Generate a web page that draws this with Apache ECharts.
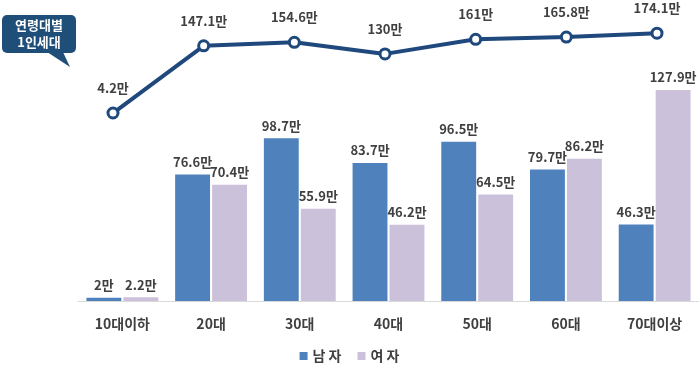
<!DOCTYPE html>
<html><head><meta charset="utf-8">
<script src="https://cdn.jsdelivr.net/npm/echarts@6/dist/echarts.min.js"></script>
<style>html,body{margin:0;padding:0;background:#fff}#c{width:699px;height:371px}</style>
</head><body><div id="c"></div>
<script>
const categories = ['10대이하','20대','30대','40대','50대','60대','70대이상'];
const male = [2, 76.6, 98.7, 83.7, 96.5, 79.7, 46.3];
const female = [2.2, 70.4, 55.9, 46.2, 64.5, 86.2, 127.9];
const total = [4.2, 147.1, 154.6, 130, 161, 165.8, 174.1];
const seriesNames = ['남 자', '여 자', '합계'];

const FONT = '"Noto Sans CJK KR", "Noto Sans", sans-serif';
const chart = echarts.init(document.getElementById('c'));
const lbl = {show: true, position: 'top', formatter: p => p.value + '만', color: '#404040', fontWeight: 'bold', fontSize: 13, fontFamily: FONT, distance: 6};
chart.setOption({
  animation: false,
  textStyle: {fontFamily: FONT},
  grid: [
    {left: 78, right: 0, top: 70, bottom: 70},
    {left: 113, right: 42, top: 21, bottom: 256}
  ],
  legend: {
    data: seriesNames.slice(0, 2), bottom: 3, left: 'center', icon: 'rect', itemWidth: 8, itemHeight: 8, itemGap: 16,
    textStyle: {color: '#404040', fontWeight: 'bold', fontSize: 14, fontFamily: FONT}
  },
  xAxis: [
    {type: 'category', data: categories, gridIndex: 0,
     axisLine: {lineStyle: {color: '#d9d9d9', width: 1}}, axisTick: {show: false},
     axisLabel: {color: '#404040', fontWeight: 'bold', fontSize: 14, margin: 16, fontFamily: FONT}},
    {type: 'category', data: categories, gridIndex: 1, boundaryGap: false, show: false}
  ],
  yAxis: [
    {type: 'value', min: 0, max: 140, gridIndex: 0, show: false, splitLine: {show: false}},
    {type: 'value', min: 0, max: 200, gridIndex: 1, show: false, splitLine: {show: false}}
  ],
  series: [
    {name: seriesNames[0], type: 'bar', data: male, xAxisIndex: 0, yAxisIndex: 0, barGap: '6%', barCategoryGap: '19%',
     itemStyle: {color: '#4F81BD'}, label: lbl},
    {name: seriesNames[1], type: 'bar', data: female, xAxisIndex: 0, yAxisIndex: 0,
     itemStyle: {color: '#CCC1DA'}, label: lbl},
    {name: seriesNames[2], type: 'line', data: total, xAxisIndex: 1, yAxisIndex: 1,
     lineStyle: {color: '#1F497D', width: 4}, symbol: 'circle', symbolSize: 10,
     itemStyle: {color: '#fff', borderColor: '#1F497D', borderWidth: 3},
     label: Object.assign({}, lbl, {distance: 12}), z: 5}
  ],
  graphic: [
    {type: 'polygon', shape: {points: [[44, 50], [70, 67], [62, 50]]}, style: {fill: '#1F4E79'}},
    {type: 'rect', shape: {x: 2, y: 15, width: 74, height: 38, r: 5}, style: {fill: '#1F4E79'}},
    {type: 'text', x: 39, y: 17, style: {text: '연령대별\n1인세대', fill: '#fff', font: 'bold 13px ' + FONT, align: 'center', lineHeight: 17}}
  ]
});
</script></body></html>
